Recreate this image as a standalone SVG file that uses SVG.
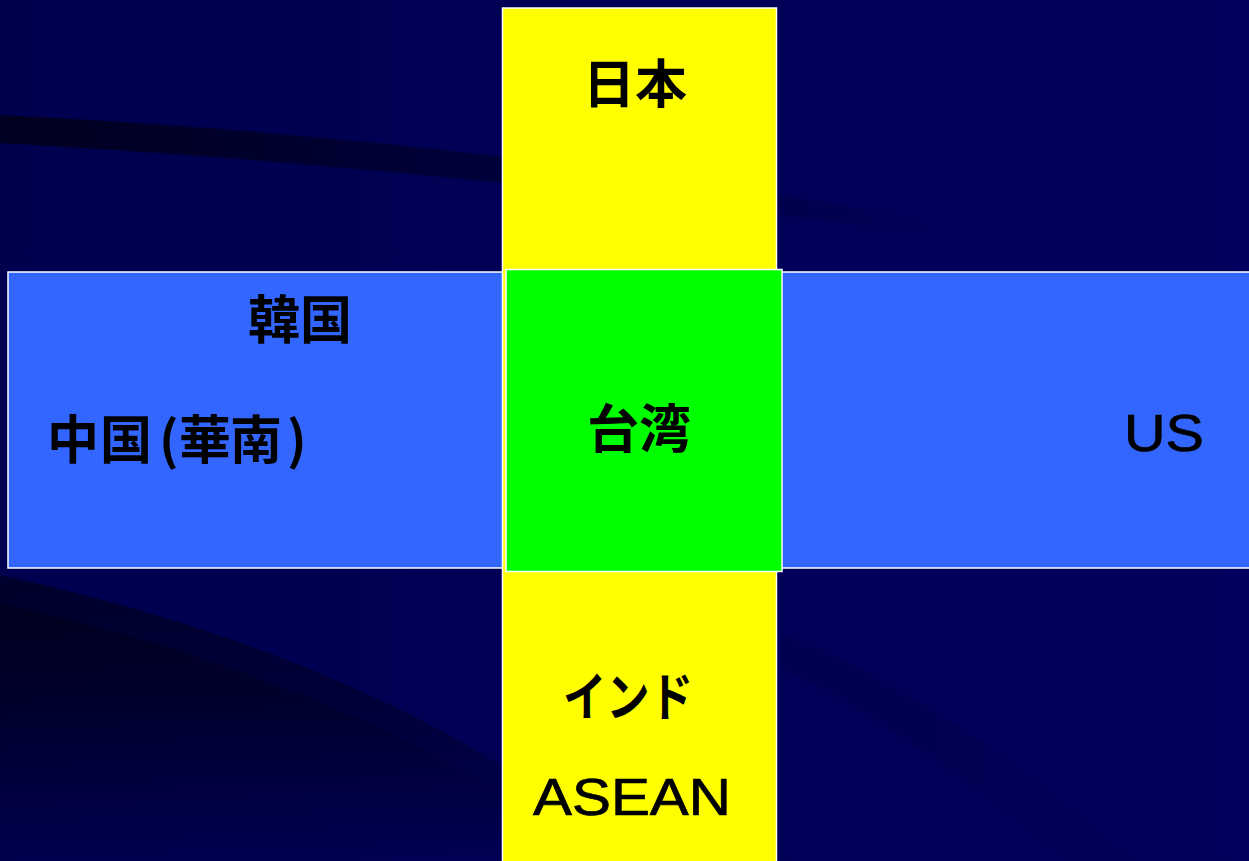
<svg xmlns="http://www.w3.org/2000/svg" width="1249" height="861" viewBox="0 0 1249 861">
  <style>
    .box { stroke: #ffffff; stroke-width: 1.5; }
    .cjk { font-family: "Noto Sans CJK JP", "Noto Sans CJK SC", sans-serif; font-weight: 700; font-size: 52px; fill: #000000; }
    .lat { font-family: "Liberation Sans", Arial, sans-serif; font-size: 52px; fill: #000000; stroke: #000000; stroke-width: 0.7; }
  </style>
  <defs>
    <linearGradient id="bgGrad" x1="0" y1="0" x2="1" y2="0">
      <stop offset="0" stop-color="#00004f"/>
      <stop offset="0.5" stop-color="#000056"/>
      <stop offset="1" stop-color="#00005c"/>
    </linearGradient>
    <linearGradient id="topBand" x1="0" y1="0" x2="1" y2="0">
      <stop offset="0" stop-color="#000000" stop-opacity="0.6"/>
      <stop offset="0.55" stop-color="#000000" stop-opacity="0.3"/>
      <stop offset="1" stop-color="#000000" stop-opacity="0"/>
    </linearGradient>
    <linearGradient id="lowBand" x1="0" y1="0" x2="0" y2="1">
      <stop offset="0" stop-color="#000000" stop-opacity="0.45"/>
      <stop offset="0.5" stop-color="#000000" stop-opacity="0.3"/>
      <stop offset="1" stop-color="#000000" stop-opacity="0"/>
    </linearGradient>
    <linearGradient id="lowBand2" x1="0" y1="0" x2="0" y2="1">
      <stop offset="0" stop-color="#000000" stop-opacity="0.3"/>
      <stop offset="0.6" stop-color="#000000" stop-opacity="0.1"/>
      <stop offset="1" stop-color="#000000" stop-opacity="0"/>
    </linearGradient>
  </defs>

  <g id="background">
    <rect x="0" y="0" width="1249" height="861" fill="url(#bgGrad)"/>
    <path d="M0,115 Q480,138 950,224 L950,238 Q480,170 0,143 Z" fill="url(#topBand)"/>
    <path d="M0,575 Q300,640 505,768 L505,861 L0,861 Z" fill="url(#lowBand)"/>
    <path d="M0,603 Q280,665 505,792 L505,861 L0,861 Z" fill="url(#lowBand2)"/>
    <path d="M780,632 Q960,705 1135,861 L1065,861 Q900,725 780,668 Z" fill="#000000" fill-opacity="0.06"/>
  </g>

  <g id="connectors"></g>

  <g id="bar-horizontal">
    <rect class="box" x="8" y="272" width="1250" height="296" fill="#3366ff"/>
  </g>
  <g id="bar-vertical">
    <rect class="box" x="502.5" y="8" width="274" height="860" fill="#ffff00"/>
  </g>
  <g id="taiwan">
    <rect class="box" x="506" y="269.5" width="276" height="302" fill="#00ff00"/>
    <text class="cjk" x="639" y="448" text-anchor="middle">台湾</text>
  </g>
  <g id="japan">
    <text class="cjk" x="635" y="103" text-anchor="middle">日本</text>
  </g>
  <g id="korea">
    <text class="cjk" x="300" y="339" text-anchor="middle">韓国</text>
  </g>
  <g id="china-south">
    <text class="cjk" y="459"><tspan x="47">中</tspan><tspan x="100">国</tspan><tspan x="159">(</tspan><tspan x="179">華</tspan><tspan x="230">南</tspan><tspan x="287">)</tspan></text>
  </g>
  <g id="us">
    <text class="lat" x="1124" y="451" textLength="80" lengthAdjust="spacingAndGlyphs">US</text>
  </g>
  <g id="india">
    <text class="cjk" x="563" y="716" textLength="130" lengthAdjust="spacingAndGlyphs">インド</text>
  </g>
  <g id="asean">
    <text class="lat" x="533" y="815" textLength="198" lengthAdjust="spacingAndGlyphs">ASEAN</text>
  </g>
</svg>
